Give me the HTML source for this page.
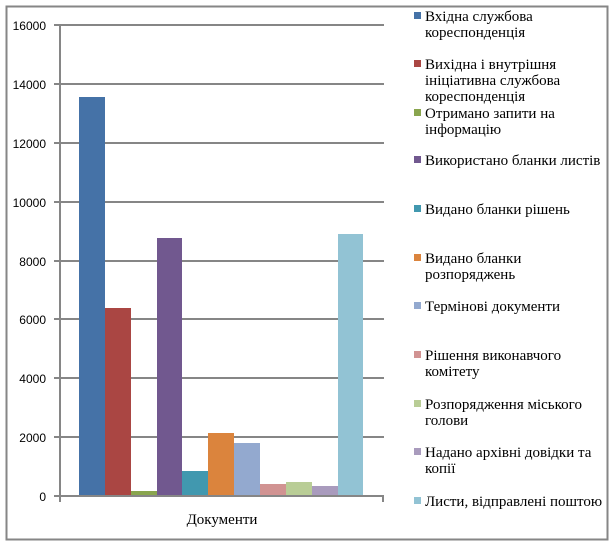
<!DOCTYPE html>
<html><head><meta charset="utf-8"><style>body{margin:0;background:#fff}</style></head><body>
<svg width="612" height="545" xmlns="http://www.w3.org/2000/svg">
<rect x="6.5" y="6.5" width="601" height="533" fill="#fff" stroke="#868686" stroke-width="2"/>
<g stroke="#868686" stroke-width="2">
<line x1="54" y1="25" x2="384" y2="25"/><line x1="54" y1="84" x2="384" y2="84"/>
<line x1="54" y1="143" x2="384" y2="143"/><line x1="54" y1="202" x2="384" y2="202"/>
<line x1="54" y1="261" x2="384" y2="261"/><line x1="54" y1="319" x2="384" y2="319"/>
<line x1="54" y1="378" x2="384" y2="378"/><line x1="54" y1="437" x2="384" y2="437"/>
</g>
<g font-family="Liberation Sans, sans-serif" font-size="12" text-anchor="end" fill="#000">
<text x="46" y="30">16000</text><text x="46" y="89">14000</text><text x="46" y="148">12000</text>
<text x="46" y="207">10000</text><text x="46" y="266">8000</text><text x="46" y="324">6000</text>
<text x="46" y="383">4000</text><text x="46" y="442">2000</text><text x="46" y="501">0</text>
</g>
<rect x="79" y="97" width="26" height="399" fill="#4572a7"/>
<rect x="105" y="308" width="26" height="188" fill="#aa4643"/>
<rect x="131" y="491" width="26" height="5" fill="#89a54e"/>
<rect x="157" y="238" width="25" height="258" fill="#71588f"/>
<rect x="182" y="471" width="26" height="25" fill="#4198af"/>
<rect x="208" y="433" width="26" height="63" fill="#db843d"/>
<rect x="234" y="443" width="26" height="53" fill="#93a9cf"/>
<rect x="260" y="484" width="26" height="12" fill="#d19392"/>
<rect x="286" y="482" width="26" height="14" fill="#b9cd96"/>
<rect x="312" y="486" width="26" height="10" fill="#a99bbd"/>
<rect x="338" y="234" width="25" height="262" fill="#92c3d4"/>
<g stroke="#868686" stroke-width="2">
<line x1="60" y1="25" x2="60" y2="502"/>
<line x1="54" y1="496" x2="384" y2="496"/>
<line x1="383" y1="496" x2="383" y2="502"/>
</g>
<text x="222" y="524" font-family="Liberation Serif, serif" font-size="15" text-anchor="middle">Документи</text>
<g font-family="Liberation Serif, serif" font-size="15" fill="#000">
<rect x="414" y="12" width="7" height="7" fill="#4572a7"/>
<text x="425" y="21">Вхідна службова</text><text x="425" y="37">кореспонденція</text>
<rect x="414" y="60" width="7" height="7" fill="#aa4643"/>
<text x="425" y="69">Вихідна і внутрішня</text><text x="425" y="85">ініціативна службова</text><text x="425" y="101">кореспонденція</text>
<rect x="414" y="109" width="7" height="7" fill="#89a54e"/>
<text x="425" y="118">Отримано запити на</text><text x="425" y="134">інформацію</text>
<rect x="414" y="156" width="7" height="7" fill="#71588f"/>
<text x="425" y="165">Використано бланки листів</text>
<rect x="414" y="205" width="7" height="7" fill="#4198af"/>
<text x="425" y="214">Видано бланки рішень</text>
<rect x="414" y="254" width="7" height="7" fill="#db843d"/>
<text x="425" y="263">Видано бланки</text><text x="425" y="279">розпоряджень</text>
<rect x="414" y="302" width="7" height="7" fill="#93a9cf"/>
<text x="425" y="311">Термінові документи</text>
<rect x="414" y="351" width="7" height="7" fill="#d19392"/>
<text x="425" y="360">Рішення виконавчого</text><text x="425" y="376">комітету</text>
<rect x="414" y="400" width="7" height="7" fill="#b9cd96"/>
<text x="425" y="409">Розпорядження міського</text><text x="425" y="425">голови</text>
<rect x="414" y="448" width="7" height="7" fill="#a99bbd"/>
<text x="425" y="457">Надано архівні довідки та</text><text x="425" y="473">копії</text>
<rect x="414" y="497" width="7" height="7" fill="#92c3d4"/>
<text x="425" y="506">Листи, відправлені поштою</text>
</g>
</svg>
</body></html>
